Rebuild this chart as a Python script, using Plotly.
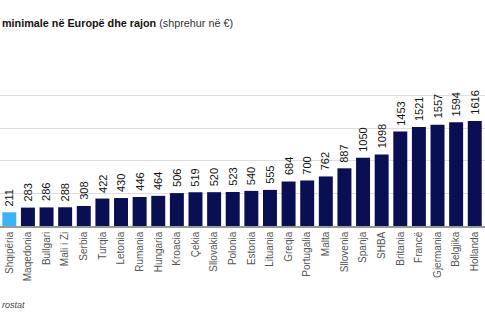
import plotly.graph_objects as go

countries = ["Shqipëria", "Maqedonia", "Bullgari", "Mali i Zi", "Serbia", "Turqia", "Letonia",
             "Rumania", "Hungaria", "Kroacia", "Çekia", "Sllovakia", "Polonia", "Estonia",
             "Lituania", "Greqia", "Portugalia", "Malta", "Sllovenia", "Spanja", "SHBA",
             "Britania", "Francë", "Gjermania", "Belgjika", "Hollanda"]
wages = [211, 283, 286, 288, 308, 422, 430, 446, 464, 506, 519, 520, 523, 540,
         555, 684, 700, 762, 887, 1050, 1098, 1453, 1521, 1557, 1594, 1616]
highlight = "Shqipëria"

NAVY = "#0a0e52"
BLUE = "#3db3f5"
colors = [BLUE if c == highlight else NAVY for c in countries]

FONT = "Liberation Sans, Arial, sans-serif"

fig = go.Figure()
fig.add_trace(go.Bar(x=countries, y=wages, marker=dict(color=colors, line=dict(width=0)),
                     width=0.75, showlegend=False, hoverinfo="skip"))

for c, v in zip(countries, wages):
    fig.add_annotation(x=c, y=v, xref="x", yref="y", text=str(v), showarrow=False,
                       textangle=-90, yanchor="bottom", xanchor="center", yshift=4,
                       font=dict(family=FONT, size=11, color="#111111"))

fig.add_annotation(xref="paper", yref="paper", x=0, y=1.0, xanchor="left", yanchor="middle",
                   yshift=71, showarrow=False,
                   text="<b>minimale në Europë dhe rajon</b> <span style='color:#333333'>(shprehur në €)</span>",
                   font=dict(family=FONT, size=10.8, color="#111111"))
fig.add_annotation(xref="paper", yref="paper", x=0, y=0, xanchor="left", yanchor="middle",
                   yshift=-79, showarrow=False, text="<i>rostat</i>",
                   font=dict(family=FONT, size=9, color="#444444"))

fig.update_layout(
    width=485, height=325,
    margin=dict(l=0, r=0, t=94, b=99, pad=0),
    paper_bgcolor="white", plot_bgcolor="white",
    bargap=0.25,
    xaxis=dict(tickangle=-90, tickfont=dict(family=FONT, size=10, color="#555555"),
               showline=True, linecolor="#999999", linewidth=1.5, ticks="",
               range=[-0.5, 25.55], fixedrange=True),
    yaxis=dict(range=[0, 2030], dtick=500, showgrid=True, gridcolor="#dedede", gridwidth=1,
               showticklabels=False, zeroline=False, fixedrange=True),
)
fig.write_html("out.html")
